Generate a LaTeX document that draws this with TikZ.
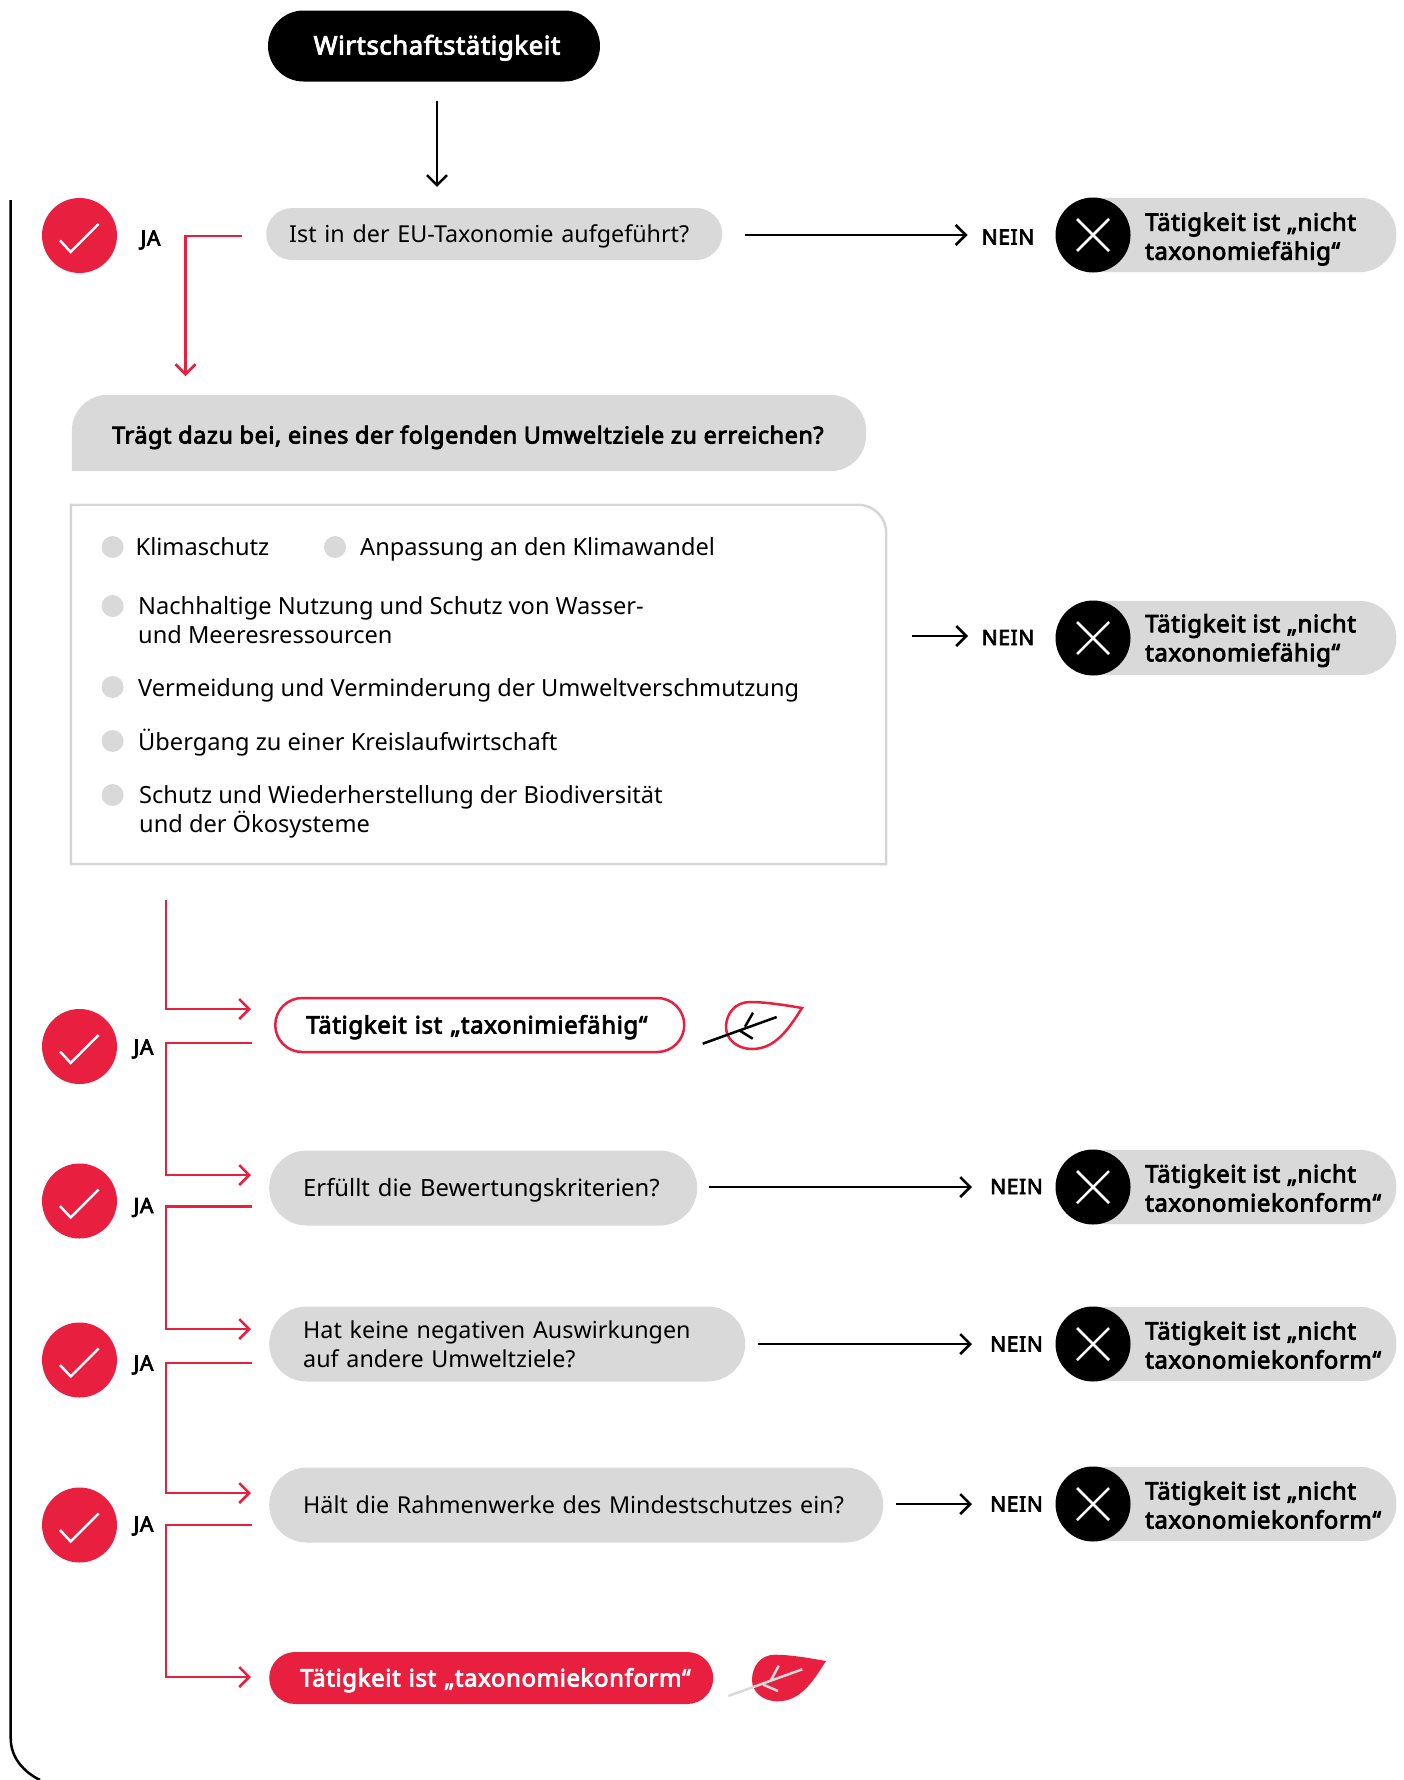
\documentclass[tikz,border=0pt]{standalone}
\usepackage{fontspec}
\setmainfont{Noto Sans}
\newfontfamily\strongf{Noto Sans}[FakeBold=3.5,LetterSpace=2.5]
\newfontfamily\labf{Noto Sans}[FakeBold=3.5,LetterSpace=3]
\usetikzlibrary{arrows.meta,calc}
\definecolor{rd}{HTML}{E81F3E}
\definecolor{gy}{HTML}{D9D9D9}
\definecolor{ln}{HTML}{D6D6D6}
\newcommand\tx[1]{\smash{\raisebox{-8.5pt}{#1}}}
\tikzset{
  x=1pt,y=-1pt,
  body/.style={font=\fontsize{23.3}{29}\selectfont},
  bodyw/.style={font=\fontsize{23.6}{29}\selectfont},
  strong/.style={font=\strongf\fontsize{24}{29}\selectfont},
  lab/.style={font=\labf\fontsize{21}{24}\selectfont,inner sep=0pt,anchor=base},
  pill/.style={fill=gy,inner ysep=0pt,anchor=west,align=left},
  chk/.style={circle,fill=rd,minimum size=75pt,inner sep=0pt},
  crs/.style={circle,fill=black,minimum size=75pt,inner sep=0pt},
  tick/.style={white,line width=2.5pt},
  blk/.style={draw=black,line width=2.5pt,-{Straight Barb[length=10pt,width=20pt,line width=2.5pt]}},
  red/.style={draw=rd,line width=2.5pt,-{Straight Barb[length=10pt,width=20pt,line width=2.5pt]}},
  bul/.style={circle,fill=gy,minimum size=22pt,inner sep=0pt},
  itm/.style={bodyw,anchor=base west,inner sep=0pt,align=left},
  itmm/.style={bodyw,anchor=west,inner sep=0pt,align=left},
}
\newcommand\chkn[2]{\node[chk] (#1) at (#2) {};
  \draw[tick] ($(#1.center)+(-19.5,5)$) -- ($(#1.center)+(-8.8,16.5)$) -- ($(#1.center)+(19.2,-11.5)$);}
\newcommand\crsn[4]{\node[minimum height=74pt,minimum width=303pt,anchor=west,inner sep=0pt] (#1p) at (#2) {};
  \fill[gy] (#1p.north west) [rounded corners=37pt] -- (#1p.north east) -- (#1p.south east) [sharp corners] -- (#1p.south west) -- cycle;
  \node[crs] (#1) at (#2) {};
  \draw[tick] ($(#1.center)+(-16,-16)$) -- ($(#1.center)+(16,16)$);
  \draw[tick] ($(#1.center)+(-16,16)$) -- ($(#1.center)+(16,-16)$);
  \node[strong,anchor=west,inner sep=0pt,align=left] (#1t) at ($(#1.center)+(52,#4)$) {#3};}
\begin{document}
\begin{tikzpicture}
\useasboundingbox (0,0) rectangle (1403,1780);
% frame line
\coordinate (fa) at (10.7,200);
\coordinate (fb) at (40,1780);
\draw[line width=2.5pt] (fa) -- (10.7,1738) .. controls (10.7,1758) and (24,1772) .. (fb);

\node[fill=black,text=white,rounded corners=35.5pt,minimum width=332pt,minimum height=71pt,inner sep=0pt,font=\strongf\fontsize{25.6}{29}\selectfont] (start) at (434,46) {\hspace*{6pt}\tx{Wirtschaftstätigkeit}};

% question 1
\coordinate (axis) at (437,0);
\node[pill,body,rounded corners=26pt,minimum height=52pt,inner xsep=23pt,text width=410pt] (q1) at (266,234) {\tx{Ist in der EU-Taxonomie aufgeführt?}};
\draw[blk,shorten <=19pt,shorten >=21pt] (start.south -| axis) -- (q1.north -| axis);
\chkn{c1}{79.5,235.5}
\node[lab] (j1) at (150.5,245.5) {JA};
\crsn{x1}{1093,235}{Tätigkeit ist „nicht\\taxonomiefähig“}{4}
\node[lab] (n1) at (1008,244.5) {NEIN};
\draw[blk,shorten <=23pt,shorten >=14pt] (q1.east |- x1.center) -- (n1.west |- x1.center);
\coordinate (s1) at (242,236);
\coordinate (t1) at (185.5,376);
\draw[red] (s1) -| (t1);

% goal question
\node[minimum width=794pt,minimum height=76pt,inner sep=0pt] (ziele) at (469,433) {};
\fill[gy] (ziele.south west) [rounded corners=36pt] -- (ziele.north west) -- (ziele.north east) -- (ziele.south east) [sharp corners] -- cycle;
\node[strong,anchor=west,inner sep=0pt,font=\strongf\fontsize{23.4}{29}\selectfont] (zielet) at (112,435) {\tx{Trägt dazu bei, eines der folgenden Umweltziele zu erreichen?}};

% goal box
\node[minimum width=815pt,minimum height=359pt,inner sep=0pt] (box) at (478.5,684.5) {};
\draw[ln,line width=2.5pt] (box.south east) -- (box.south west) -- (box.north west) [rounded corners=28pt] -- (box.north east) [sharp corners] -- (box.south east) -- cycle;
\node[bul] (b1) at (112.6,547) {};
\node[itm] (i1) at (135.5,555.5) {Klimaschutz};
\node[bul] (b2) at (335,547) {};
\node[itm] (i2) at (360,555.5) {Anpassung an den Klimawandel};
\node[bul] (b3) at (112.6,606) {};
\node[itmm] (i3) at (138,620) {Nachhaltige Nutzung und Schutz von Wasser-\\und Meeresressourcen};
\node[bul] (b4) at (112.6,687) {};
\node[itm] (i4) at (138,696.5) {Vermeidung und Verminderung der Umweltverschmutzung};
\node[bul] (b5) at (112.6,741) {};
\node[itm] (i5) at (138,750) {Übergang zu einer Kreislaufwirtschaft};
\node[bul] (b6) at (112.6,795) {};
\node[itmm] (i6) at (139,812) {Schutz und Wiederherstellung der Biodiversität\\und der Ökosysteme};

\crsn{x2}{1093,638}{Tätigkeit ist „nicht\\taxonomiefähig“}{2.5}
\node[lab] (n2) at (1008,645) {NEIN};
\coordinate (a2) at (968,636);
\draw[blk,shorten <=26pt] (box.east |- a2) -- (a2);

% taxonomy eligible
\coordinate (tr) at (166,0);
\coordinate (s2) at (166,900);
\coordinate (t2) at (251,1009);
\draw[red] (s2) |- (t2);
\node[pill,draw=rd,fill=white,line width=2.5pt,strong,rounded corners=27pt,minimum height=54pt,inner xsep=31pt,text width=347pt] (e1) at (274,1025) {\tx{\mbox{Tätigkeit ist „taxonimiefähig“}}};
\draw[rd,line width=2.5pt] (802,1008) .. controls (785,1005) and (765,1002) .. (750,1002) .. controls (735,1002) and (726,1014) .. (726,1027) .. controls (726,1040) and (738,1049) .. (752,1049) .. controls (775,1049) and (788,1030) .. (802,1008) -- cycle;
\draw[black,line width=2.5pt] (702.7,1043.7) -- (776.7,1017);
\draw[black,line width=2.5pt] (739.3,1030.3) -- (752.7,1038.7);
\draw[black,line width=2.5pt] (745,1026.7) -- (753,1012.7);

\chkn{c2}{79.5,1046.5}
\node[lab] (j2) at (143.5,1054.5) {JA};
\coordinate (s3) at (252,1043);
\coordinate (t3) at (251,1175);
\draw[red] (s3) -- (s3 -| tr) -- (t3 -| tr) -- (t3);

% criteria
\node[pill,body,font=\fontsize{23.8}{29}\selectfont,rounded corners=37.5pt,minimum height=75pt,inner xsep=34pt,text width=360pt] (q3) at (269,1188) {\tx{\mbox{Erfüllt die Bewertungskriterien?}}};
\chkn{c3}{79.5,1201}
\node[lab] (j3) at (143.5,1213) {JA};
\crsn{x3}{1093,1187}{Tätigkeit ist „nicht\\taxonomiekonform“}{1}
\node[lab] (n3) at (1016.5,1194) {NEIN};
\draw[blk,shorten <=12pt,shorten >=18pt] (q3.east |- x3.center) -- (n3.west |- x3.center);
\coordinate (s4) at (252,1206.5);
\coordinate (t4) at (251,1329);
\draw[red] (s4) -- (s4 -| tr) -- (t4 -| tr) -- (t4);

\node[pill,body,rounded corners=37.5pt,minimum height=75pt,inner xsep=34pt,text width=408pt] (q4) at (269,1344) {Hat keine negativen Auswirkungen\\auf andere Umweltziele?};
\chkn{c4}{79.5,1360}
\node[lab] (j4) at (143.5,1370.5) {JA};
\crsn{x4}{1093,1344}{Tätigkeit ist „nicht\\taxonomiekonform“}{1}
\node[lab] (n4) at (1016.5,1351.5) {NEIN};
\draw[blk,shorten <=13pt,shorten >=18pt] (q4.east |- x4.center) -- (n4.west |- x4.center);
\coordinate (s5) at (252,1363);
\coordinate (t5) at (251,1493);
\draw[red] (s5) -- (s5 -| tr) -- (t5 -| tr) -- (t5);

\node[pill,body,rounded corners=37.5pt,minimum height=75pt,inner xsep=34pt,text width=546pt] (q5) at (269,1505) {\tx{\mbox{Hält die Rahmenwerke des Mindestschutzes ein?}}};
\chkn{c5}{79.5,1525}
\node[lab] (j5) at (143.5,1531.5) {JA};
\crsn{x5}{1093,1504}{Tätigkeit ist „nicht\\taxonomiekonform“}{1}
\node[lab] (n5) at (1016.5,1511.5) {NEIN};
\draw[blk,shorten <=13pt,shorten >=18pt] (q5.east |- x5.center) -- (n5.west |- x5.center);
\coordinate (s6) at (252,1525);
\coordinate (t6) at (251,1677);
\draw[red] (s6) -- (s6 -| tr) -- (t6 -| tr) -- (t6);

\node[pill,fill=rd,text=white,strong,rounded corners=26pt,minimum height=52pt,inner xsep=31pt,text width=382pt] (e2) at (269,1678) {\tx{\mbox{Tätigkeit ist „taxonomiekonform“}}};
\fill[rd] (826,1661) .. controls (809,1658) and (790,1654.7) .. (775,1654.7) .. controls (760,1654.7) and (752,1667) .. (752,1680) .. controls (752,1692) and (763,1701.3) .. (777.3,1701.3) .. controls (800,1701.3) and (812,1683) .. (826,1661) -- cycle;
\draw[gy,line width=2.5pt] (728.3,1696) -- (802.3,1669.3);
\draw[gy,line width=2.5pt] (763.3,1684.7) -- (778,1691);
\draw[gy,line width=2.5pt] (770.7,1680.7) -- (778.7,1665.7);
\end{tikzpicture}
\end{document}
